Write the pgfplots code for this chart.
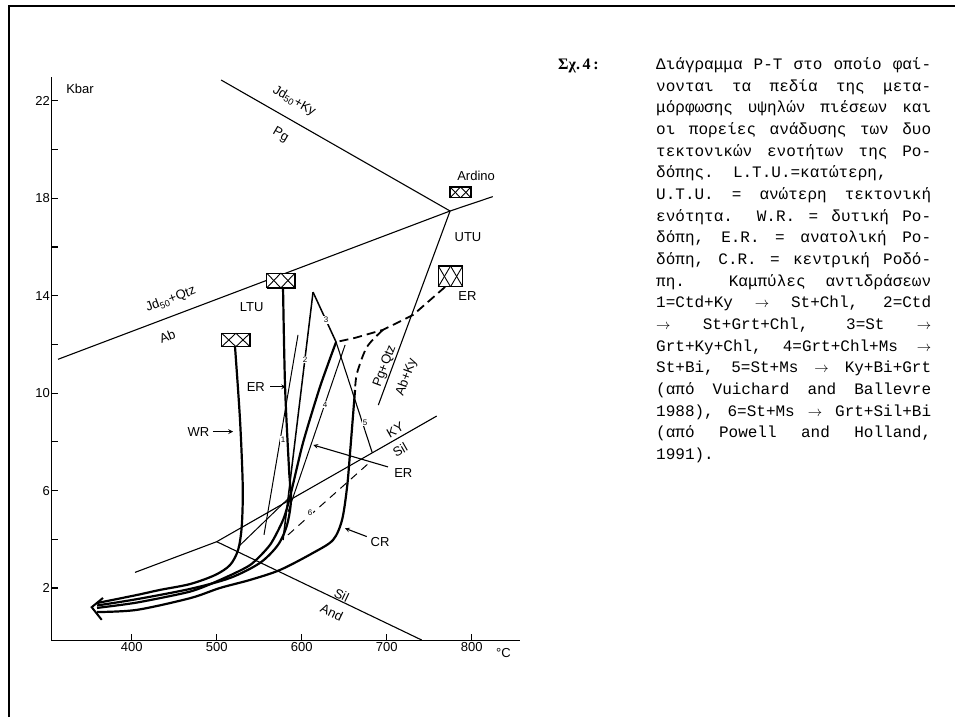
\documentclass[border=0pt]{standalone}
\usepackage{fontspec}
\setmainfont{Liberation Sans}
\newfontfamily\capfont{Liberation Mono}
\newfontfamily\headfont{Liberation Serif}
\usepackage{pgfplots}
\pgfplotsset{compat=1.18}
\newcommand{\ar}{{\fontsize{14}{14}\selectfont$\rightarrow$}}
\newcommand{\capline}[2]{\node[anchor=base west, inner sep=0pt] at (656, {717-69.5-(#1-1)*21.67}) {\capfont\fontsize{16}{16}\selectfont\spaceskip=9.6pt plus 1fil\relax\makebox[275pt][s]{#2}};}
\newcommand{\caplineL}[2]{\node[anchor=base west, inner sep=0pt] at (656, {717-69.5-(#1-1)*21.67}) {\capfont\fontsize{16}{16}\selectfont #2};}
\newcommand{\xbox}[5]{%
  \addplot[line width=1.2pt, fill=white] coordinates {(#1,#3) (#2,#3) (#2,#4) (#1,#4) (#1,#3)};
  \addplot[line width=0.9pt] coordinates {(#1,#3) (#5,#4)};
  \addplot[line width=0.9pt] coordinates {(#1,#4) (#5,#3)};
  \addplot[line width=0.9pt] coordinates {(#5,#3) (#2,#4)};
  \addplot[line width=0.9pt] coordinates {(#5,#4) (#2,#3)};
}
\begin{document}
\begin{tikzpicture}[x=1pt,y=1pt]
\useasboundingbox (0,0) rectangle (955,717);
\draw[line width=2.2pt] (9,0) -- (9,711.3) -- (955,711.3);
\begin{axis}[
  at={(51.4pt,76.2pt)}, anchor=south west,
  scale only axis, width=468.7pt, height=564.2pt,
  xmin=305.5, xmax=856.9, ymin=-0.17, ymax=23,
  axis x line*=bottom, axis y line*=left,
  axis line style={line width=1.3pt},
  xtick={400,500,600,700,800},
  ytick={2,6,10,14,18,22},
  extra y ticks={4,8,12,16,20}, extra y tick labels={},
  tick align=inside,
  major tick length=7pt,
  tick style={line width=1.1pt, black},
  tick label style={font=\fontsize{13}{13}\selectfont},
  /pgf/number format/assume math mode=true,
  xticklabel style={yshift=2pt}, yticklabel style={xshift=2pt},
  clip=false,
  every axis plot/.append style={black},
]
% univariant lines (thin)
\addplot[line width=1.1pt] coordinates {(505.1,22.86) (774.5,17.48)};
\addplot[line width=1.1pt] coordinates {(313.3,11.39) (774.5,17.48) (824.7,18.07)};
\addplot[line width=1.1pt] coordinates {(774.5,17.48) (690.1,9.51)};
\addplot[line width=1.1pt] coordinates {(403.9,2.64) (500,3.90) (758.8,9.06)};
\addplot[line width=1.1pt] coordinates {(500,3.90) (741.2,-0.14)};
% reaction lines
\addplot[line width=1.5pt] coordinates {(613.3,14.15) (578.0,3.97)};
\addplot[line width=1.5pt] coordinates {(613.3,14.15) (640.4,12.10)};
\addplot[line width=1.1pt] coordinates {(640.4,12.10) (683.0,7.55)};
\addplot[line width=1.0pt] coordinates {(651.0,11.98) (583.9,5.12)};
\addplot[line width=1.0pt] coordinates {(595.6,12.39) (555.6,4.18)};
\addplot[line width=1.0pt] coordinates {(525.1,3.68) (586.2,5.74)};
\addplot[line width=1.0pt, dash pattern=on 8pt off 6pt] coordinates {(583.9,4.18) (680.4,7.17)};
% P-T paths
\addplot[line width=2.2pt, smooth, tension=0.5] coordinates {(521.5,11.91) (527.4,8.90) (530.6,6.16) (529.4,4.52) (525.1,3.56) (515.6,2.94) (498,2.53) (468.6,2.16) (433.3,1.92) (405.9,1.71) (359.2,1.38)};
\addplot[line width=2.2pt, smooth, tension=0.5] coordinates {(578.0,14.32) (580.4,10.26) (585.1,6.85) (587.4,5.61) (582.7,4.59) (572.1,3.77) (550.9,3.03) (515.6,2.41) (468.6,1.96) (406,1.54) (359.2,1.28)};
\addplot[line width=1.8pt, dash pattern=on 9pt off 5pt] coordinates {(768.6,14.36) (730.9,13.21) (695.6,12.60) (662.7,12.27) (640.4,12.10)};
\addplot[line width=2.2pt, smooth, tension=0.4] coordinates {(640.4,12.10) (621.5,10.26) (601.5,7.96) (586.2,5.74) (578,4.79) (562.7,3.77) (539.2,2.94) (503.9,2.33) (468.6,1.85) (406,1.40) (359.2,1.18)};
\addplot[line width=1.8pt, dash pattern=on 9pt off 5pt, smooth] coordinates {(695.6,12.60) (676.8,11.90) (665.1,10.83) (662.7,10.13)};
\addplot[line width=2.2pt, smooth, tension=0.5] coordinates {(662.7,10.13) (656.8,7.53) (653.3,6.13) (647.4,4.79) (636.8,3.97) (613.3,3.44) (574.5,2.74) (539.2,2.33) (503.9,2.00) (468.6,1.58) (406,1.10) (359.2,1.01)};
\addplot[line width=2.0pt] coordinates {(366.2,1.59) (352.9,1.21) (364.7,0.69)};
% boxes
\xbox{774.5}{799.2}{18.02}{18.47}{786.85}
\xbox{760.7}{789.4}{14.37}{15.22}{775.05}
\xbox{558.8}{592.1}{14.32}{14.93}{575.45}
\xbox{505.9}{539.2}{11.91}{12.46}{522.55}
% arrows
\addplot[line width=1.1pt, -stealth] coordinates {(495.6,8.42) (519.2,8.42)};
\addplot[line width=1.1pt, -stealth] coordinates {(562.7,10.26) (581.5,10.26)};
\addplot[line width=1.1pt, -stealth] coordinates {(701.5,6.97) (613.6,7.87)};
\addplot[line width=1.1pt, -stealth] coordinates {(676.5,4.11) (650.9,4.45)};
% labels
\begin{scope}[every node/.style={font=\fontsize{13}{13}\selectfont, inner sep=1pt}]
\node at (339.2,22.49) {Kbar};
\node at (837.2,-0.68) {°C};
\node[rotate=-30] at (591,22.0) {Jd\textsubscript{50}+Ky};
\node[rotate=-30] at (575,20.6) {Pg};
\node at (805.1,18.94) {Ardino};
\node at (795.6,16.40) {UTU};
\node at (795.0,13.99) {ER};
\node[rotate=20.7] at (446,13.85) {Jd\textsubscript{50}+Qtz};
\node[rotate=20.7] at (442,12.35) {Ab};
\node at (541.2,13.55) {LTU};
\node at (478.4,8.42) {WR};
\node at (546.0,10.26) {ER};
\node at (719.5,6.71) {ER};
\node at (692.1,3.90) {CR};
\node[rotate=29.7] at (709.8,8.49) {KY};
\node[rotate=29.7] at (715.6,7.67) {Sil};
\node[rotate=-25.6] at (647,1.71) {Sil};
\node[rotate=-25.6] at (635.3,0.99) {And};
\node[rotate=69.7] at (698,11.1) {Pg+Qtz};
\node[rotate=69.7] at (723.5,10.65) {Ab+Ky};
\end{scope}
\begin{scope}[every node/.style={font=\fontsize{8}{8}\selectfont, inner sep=0.8pt, fill=white}]
\node at (578,8.08) {1};
\node at (604,11.37) {2};
\node at (628.6,13.0) {3};
\node at (627.4,9.52) {4};
\node at (674.5,8.78) {5};
\node at (609.8,5.08) {6};
\end{scope}
\end{axis}
\node[anchor=base west, inner sep=0pt, font=\headfont\bfseries\fontsize{16}{16}\selectfont] at (558,{717-70}) {Σχ.\,4\,:};
\capline{1}{Διάγραμμα P-T στο οποίο φαί-}
\capline{2}{νονται τα πεδία της μετα-}
\capline{3}{μόρφωσης υψηλών πιέσεων και}
\capline{4}{οι πορείες ανάδυσης των δυο}
\capline{5}{τεκτονικών ενοτήτων της Ρο-}
\caplineL{6}{δόπης.~~L.T.U.=κατώτερη,}
\capline{7}{U.T.U. = ανώτερη τεκτονική}
\capline{8}{ενότητα. W.R. = δυτική Ρο-}
\capline{9}{δόπη, E.R. = ανατολική Ρο-}
\capline{10}{δόπη, C.R. = κεντρική Ροδό-}
\capline{11}{πη. Καμπύλες αντιδράσεων}
\capline{12}{1=Ctd+Ky \ar{} St+Chl, 2=Ctd}
\capline{13}{\ar{} St+Grt+Chl, 3=St \ar}
\capline{14}{Grt+Ky+Chl, 4=Grt+Chl+Ms \ar}
\capline{15}{St+Bi, 5=St+Ms \ar{} Ky+Bi+Grt}
\capline{16}{(από Vuichard and Ballevre}
\capline{17}{1988), 6=St+Ms \ar{} Grt+Sil+Bi}
\capline{18}{(από Powell and Holland,}
\caplineL{19}{1991).}
\end{tikzpicture}
\end{document}
